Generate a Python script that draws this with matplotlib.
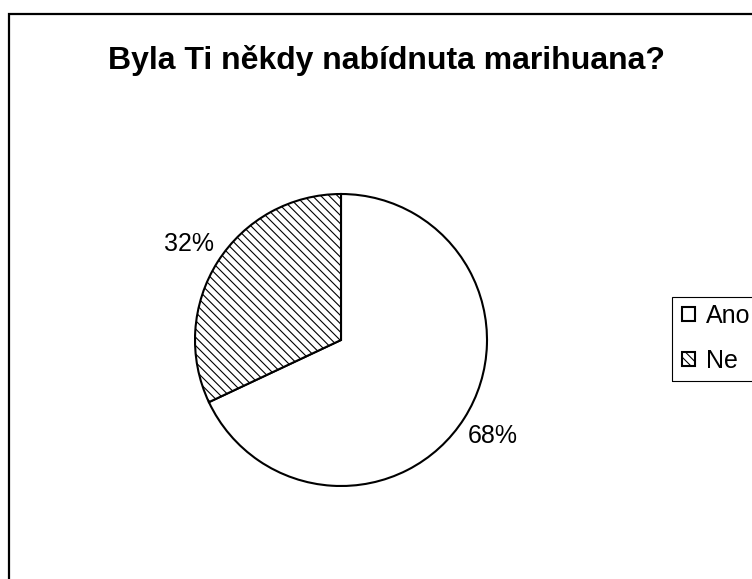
import matplotlib
matplotlib.use("Agg")
import matplotlib.pyplot as plt
from matplotlib.patches import Rectangle

plt.rcParams["font.family"] = ["Liberation Sans", "DejaVu Sans"]
plt.rcParams["hatch.linewidth"] = 0.8

title = "Byla Ti někdy nabídnuta marihuana?"
categories = ["Ano", "Ne"]
shares = [68, 32]
hatches = ["", "\\\\\\\\"]

W, H = 752, 579
fig = plt.figure(figsize=(W / 100, H / 100), dpi=100)

def px_rect(x0, y0, x1, y1):
    """Figure-fraction rectangle from pixel coords (origin top-left)."""
    return [x0 / W, 1 - y1 / H, (x1 - x0) / W, (y1 - y0) / H]

# outer chart frame (runs off the right and bottom edges)
fig.patches.append(Rectangle((9 / W, -0.1), 1.2, 1 - 14 / H + 0.1,
                             transform=fig.transFigure, fill=False,
                             edgecolor="black", linewidth=1.6))

fig.text(387 / W, 1 - 60 / H, title, ha="center", va="center",
         fontsize=23, fontweight="bold")

cx, cy, r = 341, 340, 146
ax = fig.add_axes(px_rect(cx - r, cy - r, cx + r, cy + r))
wedges, _, autotexts = ax.pie(
    shares, startangle=90, counterclock=False,
    colors=["white", "white"],
    wedgeprops=dict(edgecolor="black", linewidth=1.5, clip_on=False),
    autopct="%1.0f%%", pctdistance=1.23,
    textprops=dict(fontsize=18),
)
for w, h in zip(wedges, hatches):
    w.set_hatch(h)
ax.set_xlim(-1, 1)
ax.set_ylim(-1, 1)
ax.set_aspect("equal")

# legend box (extends past the right edge)
fig.patches.append(Rectangle((672 / W, 1 - 381 / H), 0.3, 84 / H,
                             transform=fig.transFigure, fill=False,
                             edgecolor="black", linewidth=0.8))
fig.legend(wedges, categories, loc="upper left",
           bbox_to_anchor=(682 / W, 1 - 304 / H),
           frameon=False, fontsize=18, borderpad=0, borderaxespad=0,
           handlelength=0.5, handleheight=0.5, handletextpad=0.45,
           labelspacing=0.84)

fig.savefig("out.png", dpi=100)
